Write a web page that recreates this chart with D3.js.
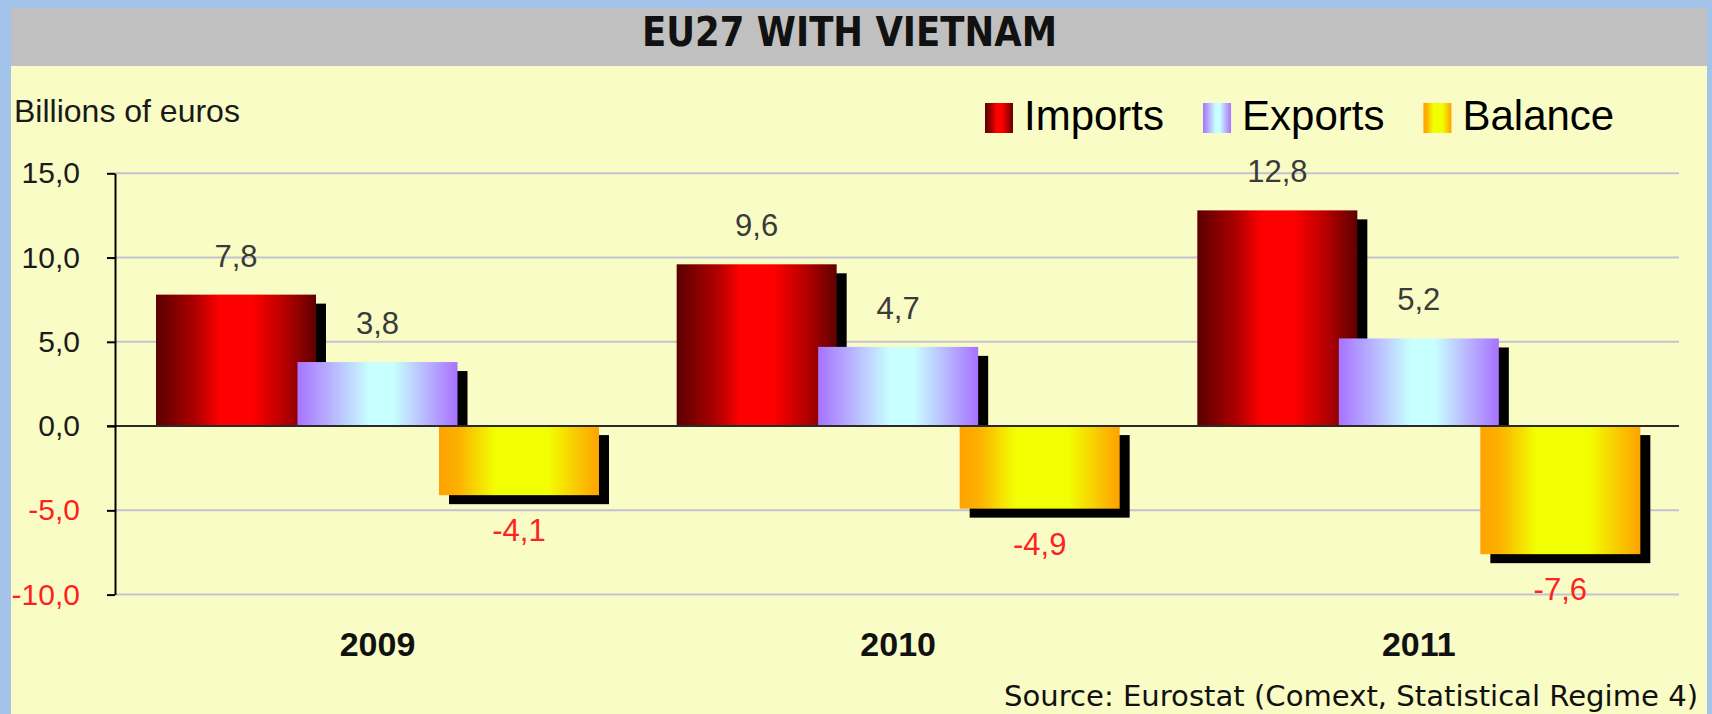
<!DOCTYPE html>
<html>
<head>
<meta charset="utf-8">
<script src="https://cdn.jsdelivr.net/npm/d3@7"></script>
<style>
  html, body { margin: 0; padding: 0; background: #a4c3eb; }
  #container { width: 1712px; height: 714px; }
</style>
</head>
<body>
<div id="container"></div>
<script>
let w = 1712;
let h = 714;

// data
let years = ["2009", "2010", "2011"];
let seriesNames = ["Imports", "Exports", "Balance"];
let imports = [7.8, 9.6, 12.8];
let exportsVals = [3.8, 4.7, 5.2];
let balance = [-4.1, -4.9, -7.6];
let yTicks = [-10, -5, 0, 5, 10, 15];

let viz = d3.select("#container")
  .append("svg")
    .attr("width", w)
    .attr("height", h)
;

// frame: blue border, grey title band, yellow panel
viz.append("rect").attr("x", 0).attr("y", 0).attr("width", w).attr("height", h).attr("fill", "#a4c3eb");
viz.append("rect").attr("x", 11).attr("y", 8).attr("width", 1696).attr("height", h - 8).attr("fill", "#f9fcc4");
viz.append("rect").attr("x", 11).attr("y", 8).attr("width", 1696).attr("height", 58).attr("fill", "#c0c0c0");

viz.append("text")
  .text("EU27 WITH VIETNAM")
  .attr("x", 642)
  .attr("y", 46)
  .attr("textLength", 415)
  .attr("lengthAdjust", "spacingAndGlyphs")
  .style("font-family", "'DejaVu Sans', sans-serif")
  .style("font-weight", "bold")
  .style("font-size", "40px")
  .attr("fill", "#111")
;

// gradients
let defs = viz.append("defs");
let gradStops = {
  Imports: [[0, "#5a0000"], [0.25, "#b00000"], [0.4, "#ff0000"], [0.6, "#ff0000"], [0.8, "#b80000"], [1, "#600000"]],
  Exports: [[0, "#a772ff"], [0.2, "#b7b0ff"], [0.45, "#c8ffff"], [0.6, "#c8ffff"], [0.82, "#b7b0ff"], [1, "#a772ff"]],
  Balance: [[0, "#ffa200"], [0.12, "#fcb000"], [0.35, "#f2ff00"], [0.68, "#f2ff00"], [0.88, "#f8c400"], [1, "#ffa200"]]
};
seriesNames.forEach(function(s){
  let g = defs.append("linearGradient")
    .attr("id", "grad" + s)
    .attr("x1", "0%").attr("x2", "100%").attr("y1", "0%").attr("y2", "0%");
  gradStops[s].forEach(function(st){
    g.append("stop").attr("offset", st[0]).attr("stop-color", st[1]);
  });
});

// scales
let yScale = d3.scaleLinear().domain([-10, 15]).range([594.6, 173.3]);
let x0 = d3.scaleBand().domain(years).range([115, 1677]);
let x1 = d3.scaleBand().domain(seriesNames).range([41, 41 + 3 * 141.5]);
let barW = 160;
let shadowDx = 10;
let shadowDy = 9;

let locale = d3.formatLocale({decimal: ",", thousands: ".", grouping: [3], currency: ["", " €"], minus: "-"});
let fmt = locale.format(".1f");

// gridlines
viz.selectAll(".grid").data(yTicks.filter(function(d){ return d != 0; })).enter()
  .append("line")
    .classed("grid", true)
    .attr("x1", 115)
    .attr("x2", 1679)
    .attr("y1", function(d){ return yScale(d); })
    .attr("y2", function(d){ return yScale(d); })
    .attr("stroke", "#c2c3d2")
    .attr("stroke-width", 2)
;

// bars
let table = [];
years.forEach(function(y, i){
  table.push({year: y, series: "Imports", value: imports[i]});
  table.push({year: y, series: "Exports", value: exportsVals[i]});
  table.push({year: y, series: "Balance", value: balance[i]});
});

let zeroY = yScale(0);

function barX(d){ return x0(d.year) + x1(d.series); }
function barTop(d){ return Math.min(yScale(d.value), zeroY); }
function barH(d){ return Math.abs(yScale(d.value) - zeroY); }

let groups = viz.selectAll(".bargroup").data(table).enter()
  .append("g")
    .classed("bargroup", true)
;

groups.append("rect")
  .attr("x", function(d){ return barX(d) + shadowDx; })
  .attr("y", function(d){ return d.value >= 0 ? yScale(d.value) + shadowDy : zeroY + shadowDy; })
  .attr("width", barW)
  .attr("height", function(d){ return d.value >= 0 ? barH(d) - shadowDy : barH(d); })
  .attr("fill", "#000")
;

groups.append("rect")
  .attr("x", barX)
  .attr("y", barTop)
  .attr("width", barW)
  .attr("height", barH)
  .attr("fill", function(d){ return "url(#grad" + d.series + ")"; })
;

// zero line
viz.append("line")
  .attr("x1", 107).attr("x2", 1679)
  .attr("y1", zeroY).attr("y2", zeroY)
  .attr("stroke", "#2a2a2a")
  .attr("stroke-width", 2)
;

// y axis
let yAxis = d3.axisLeft(yScale)
  .tickValues(yTicks)
  .tickFormat(fmt)
  .tickSize(8)
  .tickSizeOuter(0)
  .tickPadding(27);

let axisG = viz.append("g")
  .attr("transform", "translate(115,0)")
  .call(yAxis);
axisG.select(".domain").attr("stroke", "#000").attr("stroke-width", 2);
axisG.selectAll(".tick line").attr("stroke", "#000").attr("stroke-width", 2);
axisG.selectAll(".tick text")
  .style("font-family", "'Liberation Sans', Arial, sans-serif")
  .style("font-size", "30px")
  .attr("fill", function(d){ return d < 0 ? "#ff1f1f" : "#1c1c1c"; })
;

// value labels
viz.selectAll(".vlabel").data(table).enter()
  .append("text")
    .classed("vlabel", true)
    .text(function(d){ return fmt(d.value); })
    .attr("x", function(d){ return barX(d) + barW / 2; })
    .attr("y", function(d){ return d.value >= 0 ? yScale(d.value) - 28 : yScale(d.value) + 46; })
    .attr("text-anchor", "middle")
    .style("font-family", "'Liberation Sans', Arial, sans-serif")
    .style("font-size", "31px")
    .attr("fill", function(d){ return d.value < 0 ? "#ff2222" : "#3a3a3a"; })
;

// category labels
viz.selectAll(".cat").data(years).enter()
  .append("text")
    .classed("cat", true)
    .text(function(d){ return d; })
    .attr("x", function(d){ return x0(d) + 41 + 141.5 + barW / 2; })
    .attr("y", 656)
    .attr("text-anchor", "middle")
    .style("font-family", "'Liberation Sans', Arial, sans-serif")
    .style("font-weight", "bold")
    .style("font-size", "34px")
    .attr("fill", "#111")
;

// unit label
viz.append("text")
  .text("Billions of euros")
  .attr("x", 14)
  .attr("y", 122)
  .style("font-family", "'Liberation Sans', Arial, sans-serif")
  .style("font-size", "32px")
  .attr("fill", "#1a1a1a")
;

// legend
let legend = viz.append("g").attr("transform", "translate(985,0)");
let lx = 0;
seriesNames.forEach(function(s){
  legend.append("rect")
    .attr("x", lx).attr("y", 103)
    .attr("width", 28).attr("height", 30)
    .attr("fill", "url(#grad" + s + ")");
  let t = legend.append("text")
    .text(s)
    .attr("x", lx + 39)
    .attr("y", 130)
    .style("font-family", "'Liberation Sans', Arial, sans-serif")
    .style("font-size", "42px")
    .attr("fill", "#000");
  lx = lx + 39 + t.node().getComputedTextLength() + 39;
});

// source
viz.append("text")
  .text("Source: Eurostat (Comext, Statistical Regime 4)")
  .attr("x", 1004)
  .attr("y", 706)
  .attr("textLength", 694)
  .attr("lengthAdjust", "spacingAndGlyphs")
  .style("font-family", "'DejaVu Sans', sans-serif")
  .style("font-size", "28px")
  .attr("fill", "#111")
;
</script>
</body>
</html>
